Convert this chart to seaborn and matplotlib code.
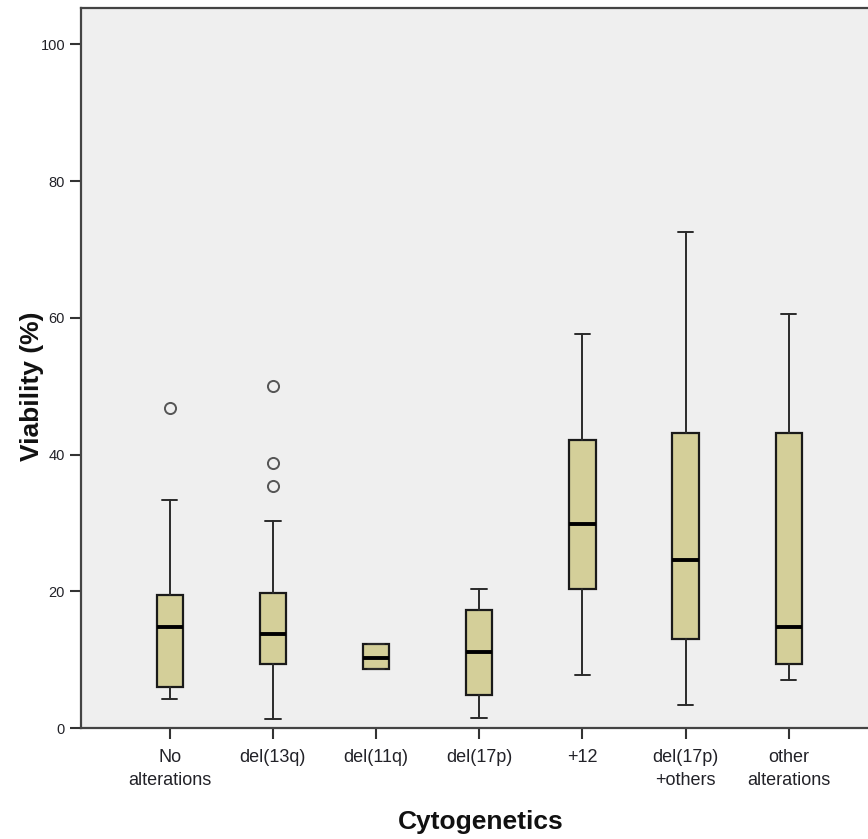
import numpy as np
import pandas as pd
import matplotlib
matplotlib.use('Agg')
import matplotlib.pyplot as plt
import seaborn as sns

# 数据 (从图中读出的箱线图五数概括)
groups = ['No\nalterations', 'del(13q)', 'del(11q)', 'del(17p)', '+12',
          'del(17p)\n+others', 'other\nalterations']
whisker_low = [4.3, 1.3, 8.6, 1.5, 7.8, 3.3, 7.0]
q1 = [6.0, 9.3, 8.6, 4.8, 20.4, 13.0, 9.4]
median = [14.8, 13.7, 10.3, 11.1, 29.9, 24.6, 14.8]
q3 = [19.4, 19.7, 12.3, 17.3, 42.1, 43.1, 43.1]
whisker_high = [33.4, 30.3, 12.3, 20.4, 57.6, 72.6, 60.5]
outliers = [[46.8], [50.1, 38.8, 35.4], [], [], [], [], []]

summary = pd.DataFrame({'group': groups, 'whislo': whisker_low, 'q1': q1,
                        'med': median, 'q3': q3, 'whishi': whisker_high})

sns.set_style("white", {'axes.facecolor': '#efefef'})
plt.rcParams['font.family'] = ['Liberation Sans', 'DejaVu Sans']

fig = plt.figure(figsize=(8.68, 8.39), dpi=100)
ax = fig.add_axes([0.0933, 0.1323, 0.92, 0.858])

stats = []
for i, row in summary.iterrows():
    stats.append({'label': row['group'], 'whislo': row['whislo'], 'q1': row['q1'],
                  'med': row['med'], 'q3': row['q3'], 'whishi': row['whishi'],
                  'fliers': outliers[i]})

ax.bxp(stats, positions=np.arange(len(groups)), widths=0.255, capwidths=0.15,
       patch_artist=True, showfliers=True,
       boxprops=dict(facecolor='#d4cf99', edgecolor='#1a1a1a', linewidth=1.6),
       medianprops=dict(color='black', linewidth=2.8),
       whiskerprops=dict(color='#2a2a2a', linewidth=1.4),
       capprops=dict(color='#2a2a2a', linewidth=1.4),
       flierprops=dict(marker='o', markersize=8, markerfacecolor='none',
                       markeredgecolor='#555555', markeredgewidth=1.4))

ax.set_xlim(-0.86, 6.88)
ax.set_ylim(0, 105.3)
ax.set_yticks([0, 20, 40, 60, 80, 100])
ax.set_xticks(np.arange(len(groups)))
ax.set_xticklabels(groups, fontsize=13, linespacing=1.45, color='#222228')
ax.tick_params(axis='y', labelsize=10.5, length=8, width=1.5, direction='out',
               color='#333333', labelcolor='#222228', left=True)
ax.tick_params(axis='x', length=8, width=1.5, direction='out', color='#333333',
               pad=7, bottom=True)

for side in ['left', 'bottom', 'top']:
    ax.spines[side].set_color('#444444')
    ax.spines[side].set_linewidth(1.6)
ax.spines['right'].set_visible(False)

ax.set_ylabel('Viability (%)', fontsize=19, fontweight='bold', color='#111111')
ax.yaxis.set_label_coords(-0.046, 0.475)
ax.set_xlabel('Cytogenetics', fontsize=19, fontweight='bold', color='#111111')
ax.xaxis.set_label_coords(0.5, -0.114)

plt.savefig('out.png', dpi=100, facecolor='white')
